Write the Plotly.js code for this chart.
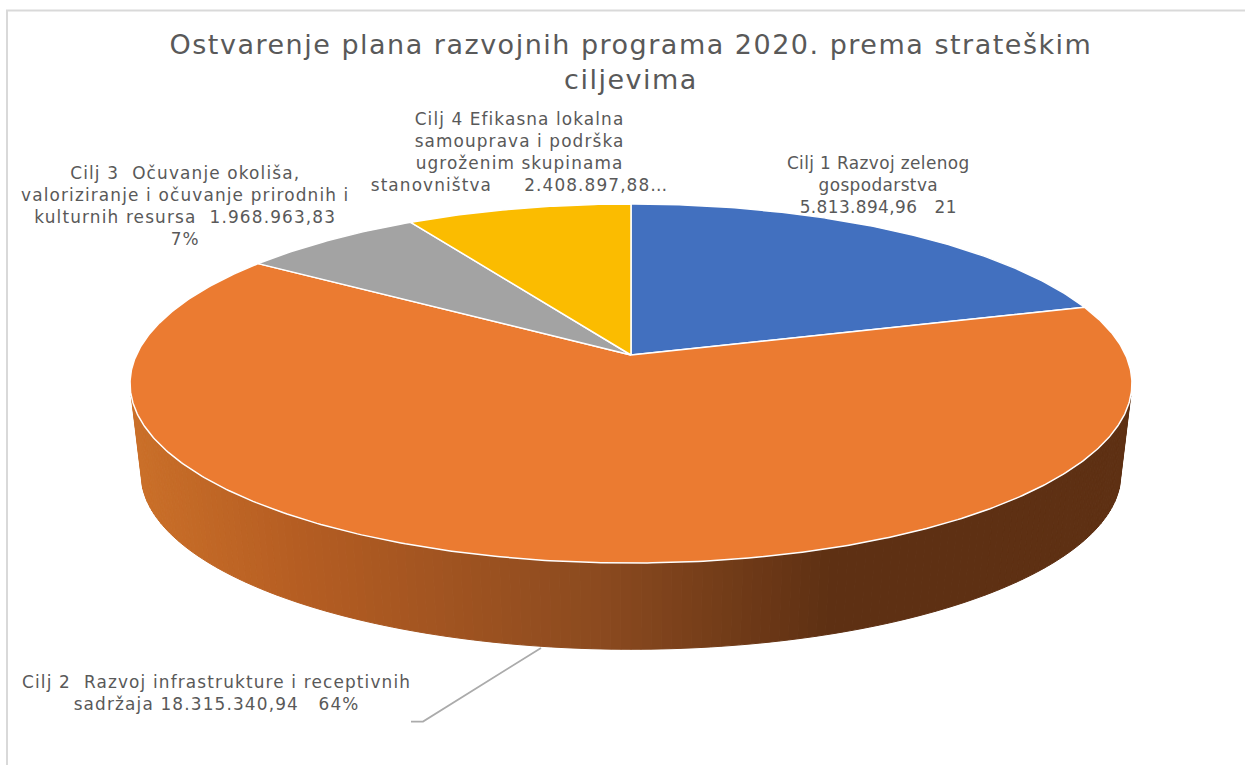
<!DOCTYPE html>
<html>
<head>
<meta charset="utf-8">
<script src="https://cdn.plot.ly/plotly-3.0.1.min.js"></script>
<style>
html,body{margin:0;padding:0;background:#fff;overflow:hidden}
#chart{width:1245px;height:765px}
.gtitle{letter-spacing:1.5px}
.annotation-text{letter-spacing:1.15px}
.annotation[data-index="0"] .annotation-text{letter-spacing:0.4px}
.annotation[data-index="3"] .annotation-text{letter-spacing:1.1px}
</style>
</head>
<body>
<div id="chart"></div>
<script>
// --- data ---
const categories = ["Cilj 1 Razvoj zelenog gospodarstva",
                    "Cilj 2 Razvoj infrastrukture i receptivnih sadržaja",
                    "Cilj 3 Očuvanje okoliša, valoriziranje i očuvanje prirodnih i kulturnih resursa",
                    "Cilj 4 Efikasna lokalna samouprava i podrška ugroženim skupinama stanovništva"];
const values = [5813894.96, 18315340.94, 1968963.83, 2408897.88];
const labelLines1 = ["Cilj 1 Razvoj zelenog", "gospodarstva", "5.813.894,96\u00A0\u00A0\u00A021"];
const labelLines2 = ["Cilj 2\u00A0\u00A0Razvoj infrastrukture i receptivnih", "sadržaja 18.315.340,94\u00A0\u00A0\u00A064%"];
const labelLines3 = ["Cilj 3\u00A0\u00A0Očuvanje okoliša,", "valoriziranje i očuvanje prirodnih i", "kulturnih resursa\u00A0\u00A01.968.963,83", "7%"];
const labelLines4 = ["Cilj 4 Efikasna lokalna", "samouprava i podrška", "ugroženim skupinama", "stanovništva\u00A0\u00A0\u00A0\u00A0\u00A02.408.897,88…"];
const titleText = "Ostvarenje plana razvojnih programa 2020. prema strateškim<br>ciljevima";

// --- styles and projection of the tilted disc, in pixel-like axis units ---
const sliceColors = ["#4270BF","#EB7B31","#A3A3A3","#FBBC00"];
const topRing = {cx:631, cy:355, A:494.6, B:175, k:0.1588};
const baseRing = {cx:631, cy:446, A:483.7, B:171, k:0.1588};
const sideStops = [[130,[203,112,41]],[300,[181,93,34]],[600,[139,74,31]],[830,[94,48,19]],[1132,[94,48,19]]];
const deg = Math.PI/180;

function project(r, theta){
  const u=Math.sin(theta*deg), v=Math.cos(theta*deg), w=1+r.k*v;
  return [r.cx+r.A*u/w, r.cy-r.B*v/w];
}
function sideColor(x){
  for(let i=1;i<sideStops.length;i++){
    if(x<=sideStops[i][0]){
      const [x0,c0]=sideStops[i-1],[x1,c1]=sideStops[i];
      const t=Math.max(0,(x-x0)/(x1-x0));
      return "rgb("+c0.map((c,j)=>Math.round(c+(c1[j]-c)*t)).join(",")+")";
    }
  }
  return "rgb(94,48,19)";
}

const traces=[];
// side wall, drawn as narrow strips
const wallFrom=103, wallTo=257, wallStep=1;
for(let t=wallFrom;t<wallTo;t+=wallStep){
  const a=project(topRing,t), b=project(topRing,t+wallStep), c=project(baseRing,t+wallStep), d=project(baseRing,t);
  const col=sideColor((a[0]+b[0]+c[0]+d[0])/4);
  traces.push({type:"scatter",mode:"lines",x:[a[0],b[0],c[0],d[0],a[0]],y:[a[1],b[1],c[1],d[1],a[1]],
    fill:"toself",fillcolor:col,line:{color:col,width:1},hoverinfo:"skip",showlegend:false});
}
// top face slices, angles taken from the values
const total=values.reduce((s,v)=>s+v,0);
let start=0;
values.forEach((v,i)=>{
  const sweep=v/total*360, xs=[topRing.cx], ys=[topRing.cy];
  for(let t=0;t<=sweep+1e-6;t+=Math.min(0.5,sweep)){
    const p=project(topRing,start+t); xs.push(p[0]); ys.push(p[1]);
  }
  const e=project(topRing,start+sweep); xs.push(e[0],topRing.cx); ys.push(e[1],topRing.cy);
  traces.push({type:"scatter",mode:"lines",x:xs,y:ys,fill:"toself",fillcolor:sliceColors[i],
    line:{color:"#FFFFFF",width:1.5},name:categories[i],text:categories[i],hoverinfo:"text",showlegend:false});
  start+=sweep;
});
// leader line for the second label
traces.push({type:"scatter",mode:"lines",x:[541,423,411],y:[648,721.5,721.5],
  line:{color:"#ABABAB",width:1.75},hoverinfo:"skip",showlegend:false});

function label(lines,x,y){
  return {xref:"x",yref:"y",x:x,y:y,xanchor:"center",yanchor:"middle",showarrow:false,align:"center",
    text:lines.join("<br>"),font:{family:"DejaVu Sans, sans-serif",size:16.9,color:"#595959"}};
}
const layout={
  width:1245,height:765,margin:{l:0,r:0,t:0,b:0},paper_bgcolor:"#fff",plot_bgcolor:"#fff",showlegend:false,
  xaxis:{range:[0,1245],visible:false,fixedrange:true},
  yaxis:{range:[765,0],visible:false,fixedrange:true},
  title:{text:titleText,x:0.5068,xanchor:"center",y:0.9295,yanchor:"middle",
    font:{family:"DejaVu Sans, sans-serif",size:27,color:"#595959"}},
  annotations:[label(labelLines1,878,185),label(labelLines2,216,693),label(labelLines3,185,206),label(labelLines4,519,152)],
  shapes:[
    {type:"line",xref:"x",yref:"y",x0:6,x1:1245,y0:10.5,y1:10.5,line:{color:"#D9D9D9",width:2}},
    {type:"line",xref:"x",yref:"y",x0:7,x1:7,y0:10,y1:765,line:{color:"#D9D9D9",width:2}}
  ]
};
Plotly.newPlot("chart",traces,layout,{displayModeBar:false,responsive:false});
</script>
</body>
</html>
